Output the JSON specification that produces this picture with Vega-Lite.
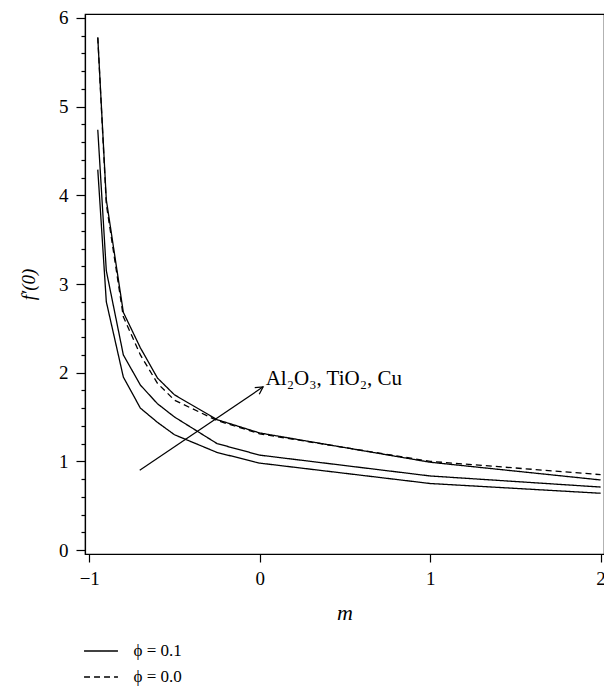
{
  "$schema": "https://vega.github.io/schema/vega-lite/v6.json",
  "width": 519,
  "height": 540,
  "autosize": {"type": "none"},
  "padding": {"left": 85, "top": 14, "right": 0, "bottom": 134},
  "background": "white",
  "config": {
    "view": {"stroke": "black", "strokeWidth": 1.2},
    "font": "Liberation Serif",
    "axis": {
      "domainColor": "black", "tickColor": "black", "labelColor": "black", "titleColor": "black",
      "grid": false, "labelFont": "Liberation Serif", "titleFont": "Liberation Serif",
      "labelFontSize": 19, "titleFontSize": 19, "titleFontWeight": "normal", "titleFontStyle": "italic",
      "domainWidth": 1.2, "tickWidth": 1.2, "labelOverlap": false
    },
    "legend": {"labelFont": "Liberation Serif"}
  },
  "datasets": {
    "curves": [
      {"fluid": "Al2O3", "phi": "ϕ = 0.1", "m": -0.95, "f": 4.29},
      {"fluid": "Al2O3", "phi": "ϕ = 0.1", "m": -0.9, "f": 2.8},
      {"fluid": "Al2O3", "phi": "ϕ = 0.1", "m": -0.8, "f": 1.95},
      {"fluid": "Al2O3", "phi": "ϕ = 0.1", "m": -0.7, "f": 1.6},
      {"fluid": "Al2O3", "phi": "ϕ = 0.1", "m": -0.6, "f": 1.44},
      {"fluid": "Al2O3", "phi": "ϕ = 0.1", "m": -0.5, "f": 1.3},
      {"fluid": "Al2O3", "phi": "ϕ = 0.1", "m": -0.25, "f": 1.1},
      {"fluid": "Al2O3", "phi": "ϕ = 0.1", "m": 0, "f": 0.98},
      {"fluid": "Al2O3", "phi": "ϕ = 0.1", "m": 1, "f": 0.75},
      {"fluid": "Al2O3", "phi": "ϕ = 0.1", "m": 2, "f": 0.64},
      {"fluid": "TiO2", "phi": "ϕ = 0.1", "m": -0.95, "f": 4.74},
      {"fluid": "TiO2", "phi": "ϕ = 0.1", "m": -0.9, "f": 3.15},
      {"fluid": "TiO2", "phi": "ϕ = 0.1", "m": -0.8, "f": 2.2},
      {"fluid": "TiO2", "phi": "ϕ = 0.1", "m": -0.7, "f": 1.86},
      {"fluid": "TiO2", "phi": "ϕ = 0.1", "m": -0.6, "f": 1.65},
      {"fluid": "TiO2", "phi": "ϕ = 0.1", "m": -0.5, "f": 1.5},
      {"fluid": "TiO2", "phi": "ϕ = 0.1", "m": -0.25, "f": 1.2},
      {"fluid": "TiO2", "phi": "ϕ = 0.1", "m": 0, "f": 1.07},
      {"fluid": "TiO2", "phi": "ϕ = 0.1", "m": 1, "f": 0.835},
      {"fluid": "TiO2", "phi": "ϕ = 0.1", "m": 2, "f": 0.71},
      {"fluid": "Cu", "phi": "ϕ = 0.1", "m": -0.95, "f": 5.78},
      {"fluid": "Cu", "phi": "ϕ = 0.1", "m": -0.9, "f": 3.95},
      {"fluid": "Cu", "phi": "ϕ = 0.1", "m": -0.8, "f": 2.68},
      {"fluid": "Cu", "phi": "ϕ = 0.1", "m": -0.7, "f": 2.28},
      {"fluid": "Cu", "phi": "ϕ = 0.1", "m": -0.6, "f": 1.94},
      {"fluid": "Cu", "phi": "ϕ = 0.1", "m": -0.5, "f": 1.75},
      {"fluid": "Cu", "phi": "ϕ = 0.1", "m": -0.25, "f": 1.47},
      {"fluid": "Cu", "phi": "ϕ = 0.1", "m": 0, "f": 1.32},
      {"fluid": "Cu", "phi": "ϕ = 0.1", "m": 1, "f": 0.99},
      {"fluid": "Cu", "phi": "ϕ = 0.1", "m": 2, "f": 0.79},
      {"fluid": "Base", "phi": "ϕ = 0.0", "m": -0.95, "f": 5.78},
      {"fluid": "Base", "phi": "ϕ = 0.0", "m": -0.9, "f": 3.9},
      {"fluid": "Base", "phi": "ϕ = 0.0", "m": -0.8, "f": 2.63},
      {"fluid": "Base", "phi": "ϕ = 0.0", "m": -0.7, "f": 2.2},
      {"fluid": "Base", "phi": "ϕ = 0.0", "m": -0.6, "f": 1.88},
      {"fluid": "Base", "phi": "ϕ = 0.0", "m": -0.5, "f": 1.69},
      {"fluid": "Base", "phi": "ϕ = 0.0", "m": -0.25, "f": 1.46},
      {"fluid": "Base", "phi": "ϕ = 0.0", "m": 0, "f": 1.31},
      {"fluid": "Base", "phi": "ϕ = 0.0", "m": 1, "f": 1.0},
      {"fluid": "Base", "phi": "ϕ = 0.0", "m": 2, "f": 0.85}
    ],
    "arrow": [{"m0": -0.704, "f0": 0.9, "m1": 0.02, "f1": 1.84}],
    "label": [{"m": 0.035, "f": 1.86, "text": "Al₂O₃, TiO₂, Cu"}]
  },
  "layer": [
    {
      "data": {"name": "curves"},
      "mark": {"type": "line", "color": "black", "strokeWidth": 1.3, "clip": true},
      "encoding": {
        "x": {
          "field": "m", "type": "quantitative",
          "scale": {"domain": [-1.025, 2.02], "nice": false, "zero": false},
          "axis": {"title": "m", "titleFontSize": 22, "values": [-1, 0, 1, 2], "tickCount": 100, "format": "d", "tickSize": 8, "labelPadding": 7, "titlePadding": 14, "labelFont": "Liberation Serif", "titleFont": "Liberation Serif"}
        },
        "y": {
          "field": "f", "type": "quantitative",
          "scale": {"domain": [-0.045, 6.045], "nice": false, "zero": false},
          "axis": {
            "title": "f′(0)",
            "labelFont": "Liberation Serif", "titleFont": "Liberation Serif",
            "values": [0, 0.2, 0.4, 0.6, 0.8, 1, 1.2, 1.4, 1.6, 1.8, 2, 2.2, 2.4, 2.6, 2.8, 3, 3.2, 3.4, 3.6, 3.8, 4, 4.2, 4.4, 4.6, 4.8, 5, 5.2, 5.4, 5.6, 5.8, 6],
            "tickCount": 100,
            "labelExpr": "abs(datum.value - round(datum.value)) < 0.001 ? format(datum.value, 'd') : ''",
            "tickSize": 9,
            "tickDash": {"condition": {"test": "abs(datum.value - round(datum.value)) < 0.001", "value": [20, 0]}, "value": [4, 20]},
            "labelPadding": 8,
            "titlePadding": 20
          }
        },
        "detail": {"field": "fluid"},
        "strokeDash": {
          "field": "phi", "type": "nominal",
          "scale": {"domain": ["ϕ = 0.1", "ϕ = 0.0"], "range": [[1, 0], [6, 4]]},
          "legend": {
            "orient": "none", "legendX": -2, "legendY": 619, "title": null,
            "symbolType": "stroke", "symbolSize": 1150, "symbolStrokeWidth": 1.3,
            "symbolStrokeColor": "black", "labelFont": "Liberation Serif", "labelFontSize": 17,
            "labelColor": "black", "labelOffset": 14.5, "rowPadding": -7, "padding": 0
          }
        }
      }
    },
    {
      "data": {"name": "arrow"},
      "mark": {"type": "rule", "color": "black", "strokeWidth": 1.2},
      "encoding": {
        "x": {"field": "m0", "type": "quantitative"},
        "y": {"field": "f0", "type": "quantitative"},
        "x2": {"field": "m1"},
        "y2": {"field": "f1"}
      }
    },
    {
      "data": {"name": "arrow"},
      "mark": {"type": "point", "shape": "M-0.6,1.1L0,0L0.6,1.1", "filled": false, "stroke": "black", "strokeWidth": 1.2, "size": 180, "angle": 56, "opacity": 1},
      "encoding": {
        "x": {"field": "m1", "type": "quantitative"},
        "y": {"field": "f1", "type": "quantitative"}
      }
    },
    {
      "data": {"name": "label"},
      "mark": {"type": "text", "align": "left", "baseline": "alphabetic", "fontSize": 21, "font": "Liberation Serif", "color": "black"},
      "encoding": {
        "x": {"field": "m", "type": "quantitative"},
        "y": {"field": "f", "type": "quantitative"},
        "text": {"field": "text"}
      }
    }
  ]
}
